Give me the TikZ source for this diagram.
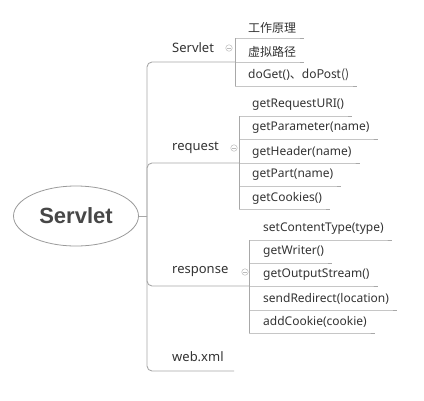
\documentclass[tikz,border=0pt]{standalone}
\usepackage{fontspec}
\setmainfont{Noto Sans}
\newfontfamily\cjk{Noto Sans CJK SC}
\newfontfamily\rootfont{Liberation Sans}
\definecolor{txt}{HTML}{333333}
\definecolor{linegray}{HTML}{A8A8A8}
\definecolor{ellgray}{HTML}{9A9A9A}
\definecolor{icongray}{HTML}{BBBBBB}
\usetikzlibrary{shapes.geometric}
\tikzset{
  conn/.style={draw=linegray, line width=0.9pt},
  leaf/.style={anchor=west, inner sep=0pt, text=txt, font=\fontsize{12}{14}\selectfont},
  branch/.style={anchor=west, inner sep=0pt, text=txt, font=\fontsize{13}{15}\selectfont},
  fold/.style={circle, draw=icongray, fill=white, inner sep=0pt, minimum size=6.5pt, line width=0.5pt,
    path picture={\draw[icongray, line width=0.5pt] ([xshift=-1.8pt]path picture bounding box.center) -- ([xshift=1.8pt]path picture bounding box.center);}},
  rootnode/.style={ellipse, draw=ellgray, line width=0.8pt, minimum width=125pt, minimum height=60pt, inner sep=0pt,
    text=txt!90!white, font=\rootfont\fontsize{22}{24}\selectfont\bfseries},
}
\begin{document}
\begin{tikzpicture}[x=1pt, y=-1pt]
\useasboundingbox (0,0) rectangle (424,400);
% root
\node[rootnode] (root) at (76,216) {Servlet};
\coordinate (j) at (147,216);
\draw[conn] (root.east) -- (j);

% ---- Servlet branch
\node[branch] (b1) at (172,48) {Servlet};
\coordinate (b1e) at (235,62);
\draw[conn, rounded corners=5pt] (j) |- (b1e);
\node[fold] (f1) at (229,48) {};
\coordinate (k1t) at (235,38);
\coordinate (k1b) at (235,86);
\draw[conn] (k1t) -- (k1b);
\node[leaf] (a11) at (248,28) {\cjk 工作原理};
\node[leaf] (a12) at (248,52) {\cjk 虚拟路径};
\node[leaf] (a13) at (248,75) {doGet()\cjk{、}doPost()};
\coordinate (u11) at (235,38);
\coordinate (u12) at (235,62);
\coordinate (u13) at (235,86);
\draw[conn] (u11) -- (a11.east |- u11) -- ++(8,0);
\draw[conn] (u12) -- (a12.east |- u12) -- ++(8,0);
\draw[conn] (u13) -- (a13.east |- u13) -- ++(8,0);

% ---- request branch
\node[branch] (b2) at (172,148) {request};
\coordinate (b2e) at (239,163);
\draw[conn, rounded corners=5pt] (j) |- (b2e);
\node[fold] (f2) at (234,148) {};
\coordinate (k2t) at (239,116);
\coordinate (k2b) at (239,209);
\draw[conn] (k2t) -- (k2b);
\node[leaf] (a21) at (252,105) {getRequestURI()};
\node[leaf] (a22) at (252,128) {getParameter(name)};
\node[leaf] (a23) at (252,152) {getHeader(name)};
\node[leaf] (a24) at (252,175) {getPart(name)};
\node[leaf] (a25) at (252,198) {getCookies()};
\coordinate (u21) at (239,116);
\coordinate (u22) at (239,139);
\coordinate (u23) at (239,163);
\coordinate (u24) at (239,186);
\coordinate (u25) at (239,209);
\draw[conn] (u21) -- (a21.east |- u21) -- ++(8,0);
\draw[conn] (u22) -- (a22.east |- u22) -- ++(8,0);
\draw[conn] (u23) -- (a23.east |- u23) -- ++(8,0);
\draw[conn] (u24) -- (a24.east |- u24) -- ++(8,0);
\draw[conn] (u25) -- (a25.east |- u25) -- ++(8,0);

% ---- response branch
\node[branch] (b3) at (172,272) {response};
\coordinate (b3e) at (249,286);
\draw[conn, rounded corners=5pt] (j) |- (b3e);
\node[fold] (f3) at (245,272) {};
\coordinate (k3t) at (249,240);
\coordinate (k3b) at (249,333);
\draw[conn] (k3t) -- (k3b);
\node[leaf] (a31) at (263,229) {setContentType(type)};
\node[leaf] (a32) at (263,252) {getWriter()};
\node[leaf] (a33) at (263,275) {getOutputStream()};
\node[leaf] (a34) at (263,299) {sendRedirect(location)};
\node[leaf] (a35) at (263,322) {addCookie(cookie)};
\coordinate (u31) at (249,240);
\coordinate (u32) at (249,263);
\coordinate (u33) at (249,286);
\coordinate (u34) at (249,310);
\coordinate (u35) at (249,333);
\draw[conn] (u31) -- (a31.east |- u31) -- ++(8,0);
\draw[conn] (u32) -- (a32.east |- u32) -- ++(8,0);
\draw[conn] (u33) -- (a33.east |- u33) -- ++(8,0);
\draw[conn] (u34) -- (a34.east |- u34) -- ++(8,0);
\draw[conn] (u35) -- (a35.east |- u35) -- ++(8,0);

% ---- web.xml branch
\node[branch] (b4) at (172,357) {web.xml};
\coordinate (b4e) at (234,371);
\draw[conn, rounded corners=5pt] (j) |- (b4e);
\end{tikzpicture}
\end{document}
